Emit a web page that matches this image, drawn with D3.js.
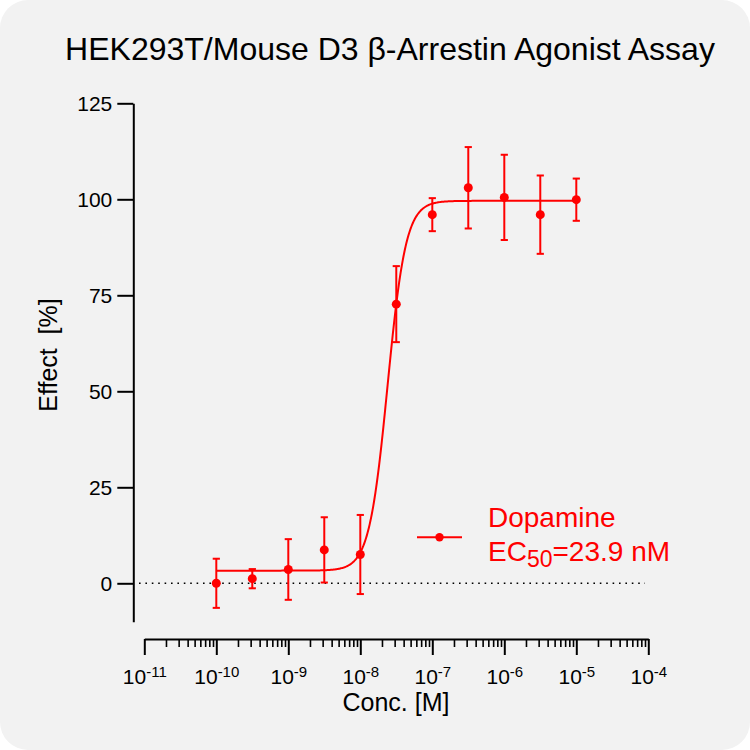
<!DOCTYPE html>
<html>
<head>
<meta charset="utf-8">
<script src="https://cdn.jsdelivr.net/npm/d3@7"></script>
<style>
  html, body { margin: 0; padding: 0; background: #ffffff; }
  svg { display: block; font-family: "Liberation Sans", Arial, sans-serif; }
</style>
</head>
<body>
<svg id="chart" width="750" height="750"></svg>
<script>
// ---- data ----
const concentrations = [1e-10, 3.16e-10, 1e-9, 3.16e-9, 1e-8, 3.16e-8, 1e-7, 3.16e-7, 1e-6, 3.16e-6, 1e-5];
const effectMean = [0.0, 1.2, 3.6, 8.7, 7.5, 72.7, 96.0, 103.0, 100.5, 96.0, 99.9];
const effectErr  = [6.4, 2.5, 7.9, 8.5, 10.3, 9.9, 4.3, 10.6, 11.1, 10.2, 5.5];
// fitted 4-parameter logistic curve parameters
const fitBottom = 3.3;
const fitTop = 99.6;
const fitEC50 = 23.9e-9;
const fitHill = 3.4;
const fitRange = [1e-10, 1e-5];
const yTickValues = [0, 25, 50, 75, 100, 125];
const xMajorExponents = [-11, -10, -9, -8, -7, -6, -5, -4];
const seriesName = "Dopamine";
const ec50Label = "=23.9 nM";

const red = "#ff0000";
const svg = d3.select("#chart");

svg.append("rect")
  .attr("x", 0).attr("y", 0).attr("width", 750).attr("height", 750)
  .attr("rx", 28).attr("ry", 28)
  .attr("fill", "#f2f2f2");

const x = d3.scaleLog().domain([1e-11, 1e-4]).range([144.3, 648.3]);
const y = d3.scaleLinear().domain([-10, 125]).range([621.7, 103.3]);

// title
svg.append("text")
  .attr("x", 390).attr("y", 60)
  .attr("text-anchor", "middle")
  .attr("font-size", 32)
  .attr("fill", "#000")
  .text("HEK293T/Mouse D3 β-Arrestin Agonist Assay");

// y axis
const yAxisG = svg.append("g")
  .attr("transform", "translate(133.3,0)")
  .call(d3.axisLeft(y).tickValues(yTickValues).tickSize(16).tickSizeOuter(0).tickPadding(5));
yAxisG.select(".domain").attr("stroke", "#000").attr("stroke-width", 2);
yAxisG.selectAll(".tick line").attr("stroke", "#000").attr("stroke-width", 2);
yAxisG.selectAll(".tick text")
  .attr("font-size", 21)
  .attr("font-family", "Liberation Sans, Arial, sans-serif")
  .attr("fill", "#000");

// x axis: major ticks
const majorVals = xMajorExponents.map(e => Math.pow(10, e));
const minorVals = [];
for (let e = -11; e < -4; e++) {
  for (let m = 2; m <= 9; m++) minorVals.push(m * Math.pow(10, e));
}
const xAxisG = svg.append("g")
  .attr("transform", "translate(0,639)")
  .call(d3.axisBottom(x).tickValues(majorVals).tickSize(16).tickSizeOuter(0).tickFormat(""));
xAxisG.select(".domain").attr("stroke", "#000").attr("stroke-width", 2);
xAxisG.selectAll(".tick line").attr("stroke", "#000").attr("stroke-width", 2);
xAxisG.selectAll(".tick text").remove();
xAxisG.selectAll(".tick").each(function(d, i) {
  const t = d3.select(this).append("text")
    .attr("y", 45.3)
    .attr("text-anchor", "middle")
    .attr("fill", "#000")
    .attr("font-size", 21);
  t.append("tspan").text("10");
  t.append("tspan").attr("font-size", 15).attr("dy", -7).text("-" + Math.abs(xMajorExponents[i]));
});

const xMinorG = svg.append("g")
  .attr("transform", "translate(0,639)")
  .call(d3.axisBottom(x).tickValues(minorVals).tickSize(8).tickSizeOuter(0).tickFormat(""));
xMinorG.select(".domain").remove();
xMinorG.selectAll(".tick line").attr("stroke", "#000").attr("stroke-width", 1.6);

// axis titles
svg.append("text")
  .attr("transform", "translate(57,355) rotate(-90)")
  .attr("text-anchor", "middle")
  .attr("font-size", 25)
  .attr("fill", "#000")
  .text("Effect\u00a0\u00a0[%]");

svg.append("text")
  .attr("x", 396).attr("y", 711)
  .attr("text-anchor", "middle")
  .attr("font-size", 25)
  .attr("fill", "#000")
  .text("Conc. [M]");

// zero dotted line
svg.append("line")
  .attr("x1", 139).attr("x2", 645)
  .attr("y1", y(0)).attr("y2", y(0))
  .attr("stroke", "#000").attr("stroke-width", 1.6)
  .attr("stroke-dasharray", "1.6,4.8");

// fitted curve
const logEC50 = Math.log10(fitEC50);
const curveX = d3.range(Math.log10(fitRange[0]), Math.log10(fitRange[1]) + 1e-9, 0.01);
const curveData = curveX.map(lx => ({
  c: Math.pow(10, lx),
  v: fitBottom + (fitTop - fitBottom) / (1 + Math.pow(10, fitHill * (logEC50 - lx)))
}));
svg.append("path")
  .datum(curveData)
  .attr("fill", "none")
  .attr("stroke", red)
  .attr("stroke-width", 2)
  .attr("d", d3.line().x(d => x(d.c)).y(d => y(d.v)));

// error bars and points
const pts = concentrations.map((c, i) => ({ c, v: effectMean[i], e: effectErr[i] }));
const eb = svg.append("g").attr("stroke", red).attr("stroke-width", 2);
pts.forEach(p => {
  const cx = x(p.c);
  eb.append("line").attr("x1", cx).attr("x2", cx).attr("y1", y(p.v - p.e)).attr("y2", y(p.v + p.e));
  eb.append("line").attr("x1", cx - 3.6).attr("x2", cx + 3.6).attr("y1", y(p.v - p.e)).attr("y2", y(p.v - p.e));
  eb.append("line").attr("x1", cx - 3.6).attr("x2", cx + 3.6).attr("y1", y(p.v + p.e)).attr("y2", y(p.v + p.e));
});
svg.append("g").selectAll("circle")
  .data(pts).join("circle")
  .attr("cx", d => x(d.c)).attr("cy", d => y(d.v))
  .attr("r", 4.5).attr("fill", red);

// legend
svg.append("line")
  .attr("x1", 417).attr("x2", 462).attr("y1", 537.3).attr("y2", 537.3)
  .attr("stroke", red).attr("stroke-width", 2);
svg.append("circle").attr("cx", 439.5).attr("cy", 537.3).attr("r", 4.2).attr("fill", red);
svg.append("text")
  .attr("x", 488).attr("y", 527)
  .attr("font-size", 28).attr("fill", red)
  .text(seriesName);
const ecText = svg.append("text")
  .attr("x", 488).attr("y", 561)
  .attr("font-size", 28).attr("fill", red);
ecText.append("tspan").text("EC");
ecText.append("tspan").attr("font-size", 23).attr("dy", 6).text("50");
ecText.append("tspan").attr("dy", -6).text(ec50Label);
</script>
</body>
</html>
